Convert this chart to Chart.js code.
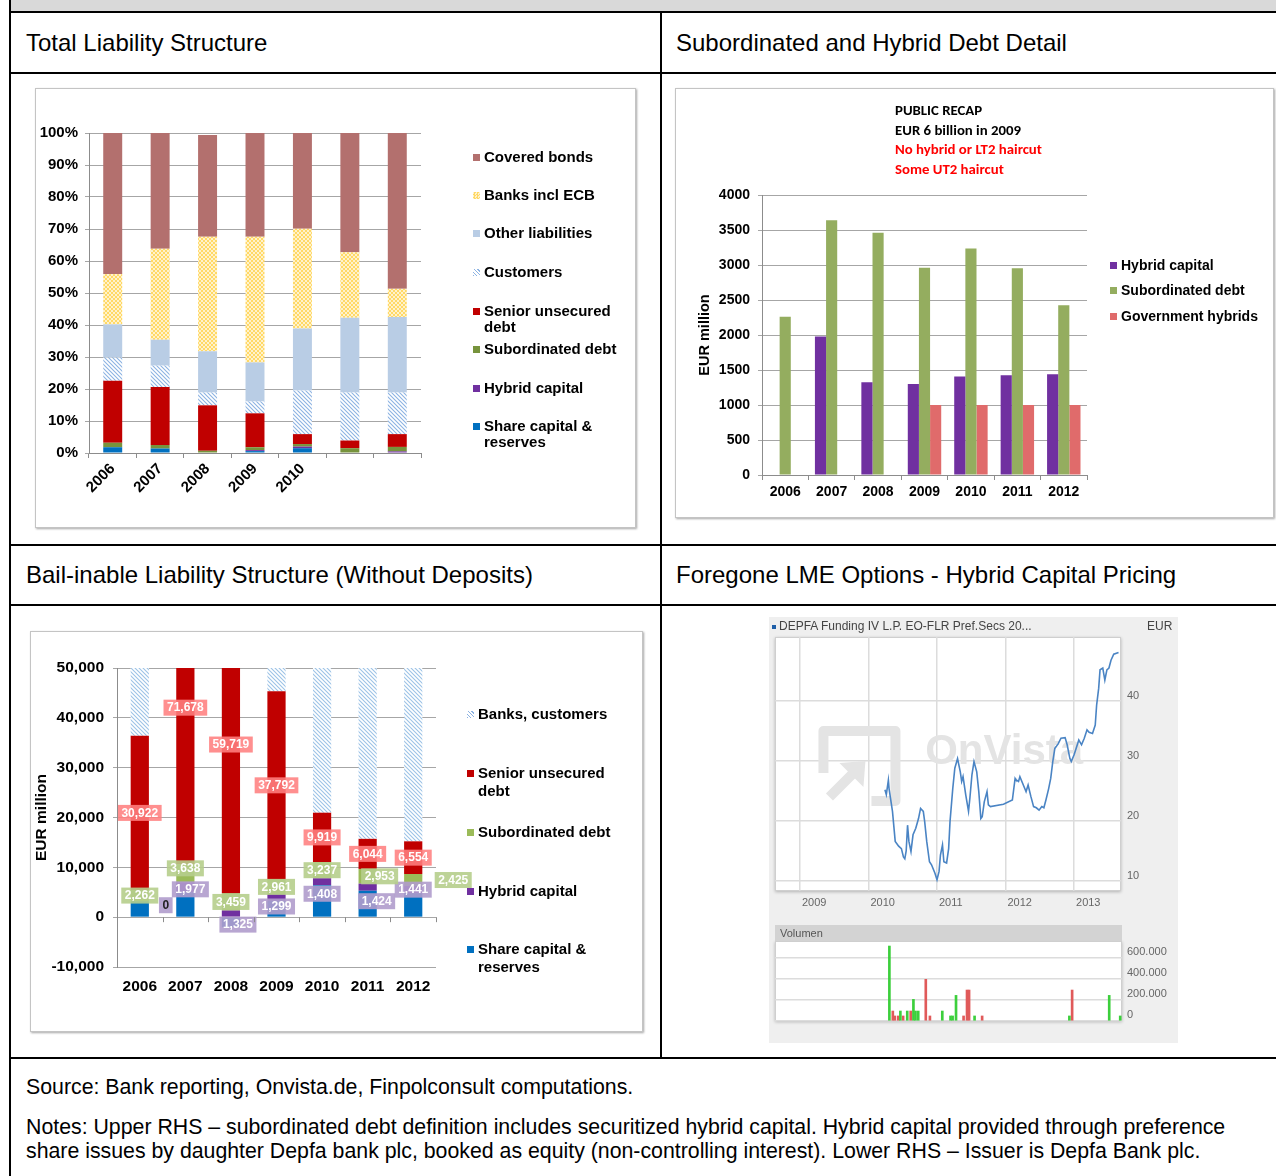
<!DOCTYPE html>
<html>
<head>
<meta charset="utf-8">
<title>Depfa liability structure</title>
<script src="https://cdn.jsdelivr.net/npm/chart.js@4.4.1/dist/chart.umd.min.js"></script>
<style>
body { margin:0; width:1276px; height:1176px; position:relative; overflow:hidden; background:#fff; font-family:'Liberation Sans', Arial, sans-serif; color:#000; }
.hline { position:absolute; left:9px; width:1267px; height:2px; background:#000; }
.vline { position:absolute; width:2px; background:#000; }
.head { position:absolute; font-size:24px; line-height:1; white-space:nowrap; }
.foot { position:absolute; left:26px; font-size:21.3px; line-height:1; white-space:nowrap; }
.frame { position:absolute; box-sizing:border-box; border:1px solid #c4c4c4; box-shadow:1px 1px 2px rgba(0,0,0,0.35); background:#fff; }
canvas { position:absolute; }
.leg { position:absolute; font-weight:bold; white-space:nowrap; }
.leg i { position:absolute; left:-11px; width:7px; height:7px; }
.note { position:absolute; font-family:Carlito, Lato, sans-serif; font-weight:bold; font-size:14.8px; line-height:19.7px; white-space:nowrap; }
.ov { position:absolute; font-size:12px; line-height:1; color:#444; white-space:nowrap; }
</style>
</head>
<body>
<div style="position:absolute;left:9px;top:0;width:1267px;height:12px;background:#d9d9d9;"></div>
<div class="hline" style="top:11px"></div>
<div class="hline" style="top:72px"></div>
<div class="hline" style="top:544px"></div>
<div class="hline" style="top:604px"></div>
<div class="hline" style="top:1057px"></div>
<div class="vline" style="left:9px;top:0;height:1176px"></div>
<div class="vline" style="left:660px;top:11px;height:1047px"></div>

<div class="head" style="left:26px;top:31px">Total Liability Structure</div>
<div class="head" style="left:676px;top:31px">Subordinated and Hybrid Debt Detail</div>
<div class="head" style="left:26px;top:563px">Bail-inable Liability Structure (Without Deposits)</div>
<div class="head" style="left:676px;top:563px">Foregone LME Options - Hybrid Capital Pricing</div>

<div class="foot" style="top:1077px">Source: Bank reporting, Onvista.de, Finpolconsult computations.</div>
<div class="foot" style="top:1117px">Notes: Upper RHS – subordinated debt definition includes securitized hybrid capital. Hybrid capital provided through preference</div>
<div class="foot" style="top:1141px">share issues by daughter Depfa bank plc, booked as equity (non-controlling interest). Lower RHS – Issuer is Depfa Bank plc.</div>

<div class="frame" style="left:35px;top:88px;width:601px;height:440px"></div>
<div class="frame" style="left:675px;top:88px;width:599px;height:430px"></div>
<div class="frame" style="left:30px;top:631px;width:613px;height:401px"></div>
<div style="position:absolute;left:769px;top:617px;width:409px;height:426px;background:#efefef"></div>

<canvas id="total" width="600" height="439" style="left:35px;top:88px"></canvas>
<canvas id="subdebt" width="598" height="429" style="left:675px;top:88px"></canvas>
<canvas id="bailin" width="612" height="400" style="left:30px;top:631px"></canvas>
<canvas id="price" width="409" height="298" style="left:769px;top:617px"></canvas>
<canvas id="volume" width="409" height="100" style="left:769px;top:925px"></canvas>

<div id="legTotal"></div>
<div id="legSub"></div>
<div id="legBail"></div>

<div class="note" style="left:895px;top:101px">PUBLIC RECAP<br>EUR 6 billion in 2009<br><span style="color:#ff0000">No hybrid or LT2 haircut<br>Some UT2 haircut</span></div>

<div class="ov" style="left:772px;top:620px"><span style="display:inline-block;width:4px;height:4px;background:#1f5fa8;vertical-align:middle;margin-right:3px"></span>DEPFA Funding IV L.P. EO-FLR Pref.Secs 20...</div>
<div class="ov" style="left:1147px;top:620px">EUR</div>

<script>
// ---- data ----
var years = ['2006', '2007', '2008', '2009', '2010', '2011', '2012'];
var totalYearLabels = ['2006', '2007', '2008', '2009', '2010', '', ''];

// total liability structure, % of balance sheet
var pctShareCapital = [1.8, 1.4, 0, 0.6, 1.5, 0, 0];
var pctHybrid = [0, 0, 0, 0.3, 0.5, 0, 0.5];
var pctSubordinated = [1.4, 1.1, 0.7, 0.9, 0.8, 1.5, 1.4];
var pctSenior = [19.4, 18.1, 14.2, 10.6, 3.1, 2.4, 4.0];
var pctCustomers = [7.2, 6.7, 4.0, 3.7, 13.6, 15.0, 13.0];
var pctOther = [10.4, 8.1, 12.9, 12.2, 19.4, 23.4, 23.6];
var pctBanks = [15.7, 28.4, 35.8, 39.3, 31.2, 20.4, 8.8];
var pctCovered = [44.1, 36.2, 31.8, 32.4, 29.9, 37.3, 48.7];

// subordinated and hybrid debt, EUR million
var hybridCapital = [0, 1977, 1325, 1299, 1408, 1424, 1441];
var subordinatedDebt = [2262, 3638, 3459, 2961, 3237, 2953, 2425];
var governmentHybrids = [0, 0, 0, 1000, 1000, 1000, 1000];

// bail-inable structure, EUR million
var bailShareCapital = [3200, 5000, -2000, 3300, 6400, 5300, 4800];
var bailSenior = [30922, 71678, 59719, 37792, 9919, 6044, 6554];
var bailBanksCustomers = [36500, 139000, 167000, 153000, 143000, 89000, 36000];
var bailTicks = [-10000, 0, 10000, 20000, 30000, 40000, 50000];

// onvista price (EUR) by fractional year
var priceYears = [2010.24, 2010.26, 2010.29, 2010.30, 2010.35, 2010.39, 2010.44, 2010.48, 2010.51, 2010.53, 2010.55, 2010.57, 2010.59, 2010.62, 2010.65, 2010.69, 2010.73, 2010.76, 2010.80, 2010.82, 2010.85, 2010.89, 2010.92, 2010.97, 2011.00, 2011.03, 2011.05, 2011.08, 2011.10, 2011.14, 2011.17, 2011.19, 2011.23, 2011.26, 2011.30, 2011.34, 2011.36, 2011.38, 2011.42, 2011.46, 2011.48, 2011.51, 2011.54, 2011.58, 2011.61, 2011.64, 2011.66, 2011.69, 2011.73, 2011.75, 2011.78, 2011.97, 2012.10, 2012.14, 2012.15, 2012.19, 2012.21, 2012.26, 2012.30, 2012.33, 2012.37, 2012.41, 2012.45, 2012.49, 2012.53, 2012.56, 2012.59, 2012.63, 2012.66, 2012.69, 2012.72, 2012.74, 2012.77, 2012.81, 2012.87, 2012.90, 2012.94, 2012.96, 2013.00, 2013.04, 2013.07, 2013.11, 2013.15, 2013.19, 2013.22, 2013.27, 2013.31, 2013.33, 2013.36, 2013.38, 2013.42, 2013.45, 2013.48, 2013.51, 2013.54, 2013.58, 2013.65];
var priceValues = [25.2, 24.4, 26.8, 25.4, 21.6, 16.6, 15.8, 15.4, 14.0, 13.7, 15.0, 19.3, 16.6, 14.9, 17.7, 18.8, 20.4, 22.1, 21.6, 19.9, 16.6, 13.2, 12.7, 11.3, 10.2, 11.6, 14.3, 16.0, 13.2, 13.0, 15.4, 19.9, 25.4, 28.8, 30.4, 28.2, 26.6, 27.4, 24.3, 21.6, 23.8, 27.7, 29.9, 28.2, 24.9, 20.4, 20.7, 23.2, 24.9, 22.7, 22.4, 22.8, 23.5, 27.1, 26.9, 26.6, 27.4, 26.0, 24.9, 26.0, 24.1, 22.4, 22.2, 21.8, 22.4, 22.2, 23.5, 25.4, 27.1, 29.9, 32.1, 32.4, 32.9, 33.8, 33.9, 32.7, 30.4, 29.9, 31.0, 32.4, 33.5, 32.7, 33.8, 35.2, 34.8, 34.6, 36.0, 39.3, 42.1, 45.2, 45.5, 43.5, 45.2, 45.5, 46.8, 47.8, 48.1];
var priceTicks = [10, 20, 30, 40];
var yearTicks = [2009, 2010, 2011, 2012, 2013];

// traded volume (pieces)
var volUpYears = [2010.30, 2010.46, 2010.56, 2010.65, 2010.68, 2010.72, 2011.07, 2011.19, 2011.22, 2011.27, 2011.54, 2012.92, 2013.50, 2013.66];
var volUp = [714000, 95000, 95000, 206000, 95000, 95000, 95000, 48000, 48000, 244000, 48000, 48000, 244000, 48000];
var volDownYears = [2010.35, 2010.38, 2010.43, 2010.50, 2010.61, 2010.83, 2010.89, 2011.38, 2011.43, 2011.46, 2011.65, 2012.96];
var volDown = [95000, 48000, 48000, 48000, 95000, 397000, 48000, 48000, 295000, 295000, 48000, 295000];
var volTicks = [0, 200000, 400000, 600000];

// ---- helpers ----
var FONT = "'Liberation Sans', Arial, sans-serif";
Chart.defaults.font.family = FONT;
Chart.defaults.color = '#000';
Chart.defaults.animation = false;
Chart.defaults.plugins.legend.display = false;
Chart.defaults.plugins.tooltip.enabled = false;

function makeHatch(color) {
    var c = document.createElement('canvas');
    c.width = 4; c.height = 4;
    var x = c.getContext('2d');
    x.fillStyle = '#fff';
    x.fillRect(0, 0, 4, 4);
    x.strokeStyle = color;
    x.lineWidth = 1.1;
    x.beginPath();
    x.moveTo(-1, -1); x.lineTo(5, 5);
    x.moveTo(-1, 3); x.lineTo(1, 5);
    x.moveTo(3, -1); x.lineTo(5, 1);
    x.stroke();
    return x.createPattern(c, 'repeat');
}

function makeChecker(a, b) {
    var c = document.createElement('canvas');
    c.width = 4; c.height = 4;
    var x = c.getContext('2d');
    x.fillStyle = b;
    x.fillRect(0, 0, 4, 4);
    x.fillStyle = a;
    x.fillRect(0, 0, 2, 2);
    x.fillRect(2, 2, 2, 2);
    return x.createPattern(c, 'repeat');
}

function boldFont(size) { return {family: FONT, size: size, weight: 'bold'}; }

function fixedWidth(w) { return function(s) { s.width = w; s.paddingTop = 0; s.paddingBottom = 0; }; }
function fixedHeight(h) { return function(s) { s.height = h; }; }
function setTicks(list) { return function(s) { s.ticks = list.map(function(v) { return {value: v}; }); }; }

function buildLegend(id, left, lineH, size, items) {
    var html = '';
    items.forEach(function(it) {
        html += '<div class="leg" style="left:' + left + 'px;top:' + it.top + 'px;font-size:' + size + 'px;line-height:' + lineH + 'px">' +
            '<i style="top:' + ((lineH - 7) / 2) + 'px;background:' + it.bg + '"></i>' + it.text + '</div>';
    });
    document.getElementById(id).innerHTML = html;
}

var HATCH_CSS = 'repeating-linear-gradient(45deg,#8db3e2 0 1px,#fff 1px 2.5px)';
var CHECK_CSS = 'repeating-conic-gradient(#ffd966 0 25%,#fff2cc 0 50%) 0 0/3px 3px';

// ---- chart 1: total liability structure ----
new Chart(document.getElementById('total'), {
    type: 'bar',
    data: {
        labels: totalYearLabels,
        datasets: [
            {label: 'Share capital & reserves', data: pctShareCapital, backgroundColor: '#0070c0'},
            {label: 'Hybrid capital', data: pctHybrid, backgroundColor: '#7030a0'},
            {label: 'Subordinated debt', data: pctSubordinated, backgroundColor: '#77933c'},
            {label: 'Senior unsecured debt', data: pctSenior, backgroundColor: '#c00000'},
            {label: 'Customers', data: pctCustomers, backgroundColor: makeHatch('#8db3e2')},
            {label: 'Other liabilities', data: pctOther, backgroundColor: '#b9cde5'},
            {label: 'Banks incl ECB', data: pctBanks, backgroundColor: makeChecker('#ffd966', '#fff2cc')},
            {label: 'Covered bonds', data: pctCovered, backgroundColor: '#b3706e'}
        ]
    },
    options: {
        responsive: false,
        devicePixelRatio: 1,
        layout: {padding: {top: 45, right: 214, left: 0, bottom: 0}},
        datasets: {bar: {barPercentage: 0.4, categoryPercentage: 1}},
        scales: {
            x: {
                stacked: true,
                grid: {drawOnChartArea: false, tickLength: 5, color: '#8c8c8c'},
                border: {color: '#8c8c8c'},
                ticks: {minRotation: 45, maxRotation: 45, padding: 2, font: boldFont(15)},
                afterFit: fixedHeight(74)
            },
            y: {
                stacked: true, min: 0, max: 100,
                grid: {color: '#a6a6a6', tickLength: 4},
                border: {color: '#8c8c8c'},
                ticks: {stepSize: 10, padding: 7, font: boldFont(15), callback: function(v) { return v + '%'; }},
                afterFit: fixedWidth(54)
            }
        }
    }
});

buildLegend('legTotal', 484, 16, 15, [
    {top: 149, bg: '#b3706e', text: 'Covered bonds'},
    {top: 187, bg: CHECK_CSS, text: 'Banks incl ECB'},
    {top: 225, bg: '#b9cde5', text: 'Other liabilities'},
    {top: 264, bg: HATCH_CSS, text: 'Customers'},
    {top: 303, bg: '#c00000', text: 'Senior unsecured<br>debt'},
    {top: 341, bg: '#77933c', text: 'Subordinated debt'},
    {top: 380, bg: '#7030a0', text: 'Hybrid capital'},
    {top: 418, bg: '#0070c0', text: 'Share capital &amp;<br>reserves'}
]);

// ---- chart 2: subordinated and hybrid debt ----
new Chart(document.getElementById('subdebt'), {
    type: 'bar',
    data: {
        labels: years,
        datasets: [
            {label: 'Hybrid capital', data: hybridCapital, backgroundColor: '#7030a0'},
            {label: 'Subordinated debt', data: subordinatedDebt, backgroundColor: '#94ad5f'},
            {label: 'Government hybrids', data: governmentHybrids, backgroundColor: '#e06b6b'}
        ]
    },
    options: {
        responsive: false,
        devicePixelRatio: 1,
        layout: {padding: {top: 107, right: 186, left: 0, bottom: 0}},
        datasets: {bar: {barPercentage: 1, categoryPercentage: 0.72}},
        scales: {
            x: {
                grid: {drawOnChartArea: false, tickLength: 5, color: '#8c8c8c'},
                border: {color: '#8c8c8c'},
                ticks: {padding: 4, font: boldFont(14)},
                afterFit: fixedHeight(42)
            },
            y: {
                min: 0, max: 4000,
                grid: {color: '#a6a6a6', tickLength: 4},
                border: {color: '#8c8c8c'},
                ticks: {stepSize: 500, padding: 8, font: boldFont(14), callback: function(v) { return String(v); }},
                title: {display: true, text: 'EUR million', font: boldFont(14.5), padding: {top: 21, bottom: 0}},
                afterFit: fixedWidth(87)
            }
        }
    }
});

buildLegend('legSub', 1121, 16, 14, [
    {top: 257, bg: '#7030a0', text: 'Hybrid capital'},
    {top: 282, bg: '#94ad5f', text: 'Subordinated debt'},
    {top: 308, bg: '#e06b6b', text: 'Government hybrids'}
]);

// ---- chart 3: bail-inable liabilities ----
// pixel nudges for the data labels, as they were hand placed in the original
var seniorNudge = [[0, 0], [0, 22], [0, 0], [0, 0], [0, 0], [0, 0], [0, 0]];
var subNudge = [[0, 0], [0, -5], [0, 0], [0, 0], [0, 0], [12, 0], [40, 0]];
var hybridNudge = [[26, 4], [5, 2], [7, 11], [0, 9], [0, 12], [9, 14], [0, 0]];

var barLabels = {
    id: 'barLabels',
    afterDatasetsDraw: function(chart) {
        var ctx = chart.ctx;
        ctx.save();
        ctx.font = 'bold 12px ' + FONT;
        ctx.textAlign = 'center';
        ctx.textBaseline = 'middle';
        chart.data.datasets.forEach(function(ds, di) {
            if (!ds.labelBg) return;
            chart.getDatasetMeta(di).data.forEach(function(bar, i) {
                var v = ds.data[i];
                var nudge = ds.labelNudge[i];
                var x = bar.x + nudge[0];
                var y = (bar.y + bar.base) / 2 + nudge[1];
                var txt = v.toLocaleString('en-US');
                var w = ctx.measureText(txt).width + 7;
                ctx.fillStyle = ds.labelBg;
                ctx.fillRect(x - w / 2, y - 8, w, 16);
                ctx.fillStyle = v === 0 ? '#222' : '#fff';
                ctx.fillText(txt, x, y + 0.5);
            });
        });
        ctx.restore();
    }
};

var zeroTicks = {
    id: 'zeroTicks',
    afterDraw: function(chart) {
        var xs = chart.scales.x, y0 = chart.scales.y.getPixelForValue(0);
        var n = xs.ticks.length, ctx = chart.ctx;
        ctx.save();
        ctx.strokeStyle = '#8c8c8c';
        ctx.lineWidth = 1;
        ctx.beginPath();
        for (var i = 0; i <= n; i++) {
            var px = Math.round(xs.left + i * xs.width / n) + 0.5;
            ctx.moveTo(px, y0);
            ctx.lineTo(px, y0 + 5);
        }
        ctx.stroke();
        ctx.restore();
    }
};

new Chart(document.getElementById('bailin'), {
    type: 'bar',
    data: {
        labels: years,
        datasets: [
            {label: 'Share capital & reserves', data: bailShareCapital, backgroundColor: '#0070c0'},
            {label: 'Hybrid capital', data: hybridCapital, backgroundColor: '#7030a0', labelBg: 'rgba(176,156,204,0.9)', labelNudge: hybridNudge},
            {label: 'Subordinated debt', data: subordinatedDebt, backgroundColor: '#9bbb59', labelBg: 'rgba(182,206,140,0.9)', labelNudge: subNudge},
            {label: 'Senior unsecured debt', data: bailSenior, backgroundColor: '#c00000', labelBg: 'rgba(255,128,128,0.88)', labelNudge: seniorNudge},
            {label: 'Banks, customers', data: bailBanksCustomers, backgroundColor: makeHatch('#9dc3e6')}
        ]
    },
    plugins: [barLabels, zeroTicks],
    options: {
        responsive: false,
        devicePixelRatio: 1,
        layout: {padding: {top: 37, right: 206, left: 0, bottom: 0}},
        datasets: {bar: {barPercentage: 0.4, categoryPercentage: 1}},
        scales: {
            x: {
                stacked: true,
                grid: {display: false},
                border: {display: false},
                ticks: {padding: 2, font: boldFont(15.5)},
                afterFit: fixedHeight(64)
            },
            y: {
                stacked: true, min: -10000, max: 50000,
                afterBuildTicks: setTicks(bailTicks),
                grid: {color: '#a6a6a6', tickLength: 4},
                border: {color: '#8c8c8c'},
                ticks: {padding: 9, font: boldFont(15.5), callback: function(v) { return v.toLocaleString('en-US'); }},
                title: {display: true, text: 'EUR million', font: boldFont(15.5), padding: {top: 2, bottom: 0}},
                afterFit: fixedWidth(87)
            }
        }
    }
});

buildLegend('legBail', 478, 18, 15, [
    {top: 705, bg: HATCH_CSS, text: 'Banks, customers'},
    {top: 764, bg: '#c00000', text: 'Senior unsecured<br>debt'},
    {top: 823, bg: '#9bbb59', text: 'Subordinated debt'},
    {top: 882, bg: '#7030a0', text: 'Hybrid capital'},
    {top: 940, bg: '#0070c0', text: 'Share capital &amp;<br>reserves'}
]);

// ---- chart 4: onvista price and volume ----
var plotBox = {
    id: 'plotBox',
    beforeDraw: function(chart) {
        var a = chart.chartArea, ctx = chart.ctx;
        ctx.save();
        ctx.shadowColor = 'rgba(0,0,0,0.25)';
        ctx.shadowBlur = 3;
        ctx.shadowOffsetY = 1;
        ctx.fillStyle = '#fff';
        ctx.fillRect(a.left, a.top, a.width, a.height);
        ctx.restore();
        ctx.save();
        ctx.strokeStyle = '#cfcfcf';
        ctx.strokeRect(a.left + 0.5, a.top + 0.5, a.width - 1, a.height - 1);
        if (chart.options.plugins.plotBox && chart.options.plugins.plotBox.header) {
            ctx.fillStyle = '#d3d3d3';
            ctx.fillRect(a.left, 0, a.width, a.top);
            ctx.fillStyle = '#555';
            ctx.font = '11px ' + FONT;
            ctx.textBaseline = 'middle';
            ctx.fillText(chart.options.plugins.plotBox.header, a.left + 5, a.top / 2 + 1);
        }
        ctx.restore();
    }
};

var watermark = {
    id: 'watermark',
    beforeDatasetsDraw: function(chart) {
        var a = chart.chartArea, ctx = chart.ctx;
        var ox = a.left + 0.14 * a.width, oy = a.top + 0.37 * a.height;
        ctx.save();
        ctx.strokeStyle = '#e4e4e4';
        ctx.fillStyle = '#e4e4e4';
        ctx.lineWidth = 10;
        ctx.lineJoin = 'round';
        ctx.beginPath();
        ctx.moveTo(ox, oy + 42);
        ctx.lineTo(ox, oy);
        ctx.lineTo(ox + 72, oy);
        ctx.lineTo(ox + 72, oy + 70);
        ctx.lineTo(ox + 48, oy + 70);
        ctx.stroke();
        ctx.beginPath();
        ctx.moveTo(ox + 6, oy + 66);
        ctx.lineTo(ox + 30, oy + 42);
        ctx.stroke();
        ctx.beginPath();
        ctx.moveTo(ox + 42, oy + 30);
        ctx.lineTo(ox + 16, oy + 32);
        ctx.lineTo(ox + 40, oy + 56);
        ctx.closePath();
        ctx.fill();
        ctx.font = 'bold 42px ' + FONT;
        ctx.textBaseline = 'alphabetic';
        ctx.fillText('OnVista', a.left + 0.434 * a.width, a.top + 0.5 * a.height);
        ctx.restore();
    }
};

var greyTick = {color: '#666', font: {family: FONT, size: 11}};

new Chart(document.getElementById('price'), {
    type: 'line',
    data: {
        datasets: [{
            data: priceYears.map(function(x, i) { return {x: x, y: priceValues[i]}; }),
            borderColor: '#4a84c4', borderWidth: 1.6, pointRadius: 0, tension: 0
        }]
    },
    plugins: [plotBox, watermark],
    options: {
        responsive: false,
        devicePixelRatio: 1,
        layout: {padding: {top: 20, left: 6, right: 0, bottom: 0}},
        scales: {
            x: {
                type: 'linear', min: 2008.635, max: 2013.686,
                afterBuildTicks: setTicks(yearTicks),
                grid: {color: '#dcdcdc', lineWidth: 1.5, drawTicks: false},
                border: {display: false},
                ticks: Object.assign({align: 'start', labelOffset: 2, padding: 5, callback: function(v) { return String(v); }}, greyTick),
                afterFit: fixedHeight(24)
            },
            y: {
                position: 'right', min: 8.33, max: 50.67,
                afterBuildTicks: setTicks(priceTicks),
                grid: {color: '#dcdcdc', lineWidth: 1.5, drawTicks: false},
                border: {display: false},
                ticks: Object.assign({padding: 6, labelOffset: -5}, greyTick),
                afterFit: fixedWidth(57)
            }
        }
    }
});

function volPoints(xs, ys) { return xs.map(function(x, i) { return {x: x, y: ys[i]}; }); }

new Chart(document.getElementById('volume'), {
    type: 'bar',
    data: {
        datasets: [
            {data: volPoints(volUpYears, volUp), backgroundColor: '#3ccf3c', barThickness: 2, grouped: false},
            {data: volPoints(volDownYears, volDown), backgroundColor: '#e05a5a', barThickness: 2, grouped: false}
        ]
    },
    plugins: [plotBox],
    options: {
        responsive: false,
        devicePixelRatio: 1,
        layout: {padding: {top: 16, left: 6, right: 0, bottom: 4}},
        plugins: {plotBox: {header: 'Volumen'}},
        scales: {
            x: {type: 'linear', min: 2008.635, max: 2013.686, offset: false, display: false},
            y: {
                position: 'right', min: 0, max: 762000,
                afterBuildTicks: setTicks(volTicks),
                grid: {color: '#dcdcdc', lineWidth: 1.5, drawTicks: false},
                border: {display: false},
                ticks: Object.assign({padding: 5, labelOffset: -6, callback: function(v) { return v.toLocaleString('de-DE'); }}, greyTick),
                afterFit: fixedWidth(56)
            }
        }
    }
});
</script>
</body>
</html>
